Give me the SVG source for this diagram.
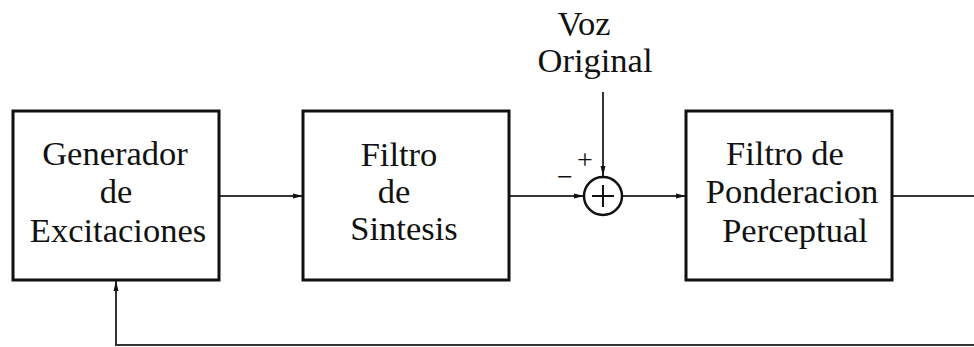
<svg xmlns="http://www.w3.org/2000/svg" width="974" height="347" viewBox="0 0 974 347">
<style>
.box{fill:#fff;stroke:#111;stroke-width:3}
.ln{fill:none;stroke:#333;stroke-width:2}
.t{font-family:'Liberation Serif','Times New Roman',Tinos,'DejaVu Serif',serif;font-size:34.5px;fill:#111;text-anchor:middle}
.s{font-size:28px}
</style>
<defs>
<marker id="ah" viewBox="0 0 10 6" refX="10" refY="3" markerWidth="10" markerHeight="6" markerUnits="userSpaceOnUse" orient="auto">
<path d="M0,0.5 L10,3 L0,5.5 Z" fill="#111"/>
</marker>
</defs>
<g id="connectors">
<line class="ln" x1="219" y1="196" x2="303" y2="196" marker-end="url(#ah)"/>
<line class="ln" x1="509" y1="196" x2="584" y2="196" marker-end="url(#ah)"/>
<line class="ln" x1="603" y1="92" x2="603" y2="176" marker-end="url(#ah)"/>
<line class="ln" x1="622" y1="196" x2="686" y2="196" marker-end="url(#ah)"/>
<polyline class="ln" points="892,196 974,196"/>
<polyline class="ln" points="974,345 116,345 116,281" marker-end="url(#ah)"/>
</g>
<g id="generador">
<rect class="box" x="13" y="111" width="206" height="169"/>
<text class="t" x="115" y="165">Generador</text>
<text class="t" x="116" y="203">de</text>
<text class="t" x="118" y="242">Excitaciones</text>
</g>
<g id="sintesis">
<rect class="box" x="303" y="111" width="206" height="169"/>
<text class="t" x="399" y="166">Filtro</text>
<text class="t" x="394" y="203">de</text>
<text class="t" x="404" y="240">Sintesis</text>
</g>
<g id="sumador">
<circle cx="603" cy="196" r="19" fill="#fff" stroke="#111" stroke-width="2.5"/>
<line x1="592" y1="196" x2="614" y2="196" stroke="#111" stroke-width="2"/>
<line x1="603" y1="185" x2="603" y2="207" stroke="#111" stroke-width="2"/>
<text class="t s" x="585" y="169">+</text>
<text class="t s" x="565" y="186">−</text>
</g>
<g id="voz">
<text class="t" x="584" y="35">Voz</text>
<text class="t" x="595" y="72">Original</text>
</g>
<g id="ponderacion">
<rect class="box" x="686" y="111" width="206" height="169"/>
<text class="t" x="785" y="165">Filtro de</text>
<text class="t" x="792" y="203">Ponderacion</text>
<text class="t" x="795" y="242">Perceptual</text>
</g>
</svg>
